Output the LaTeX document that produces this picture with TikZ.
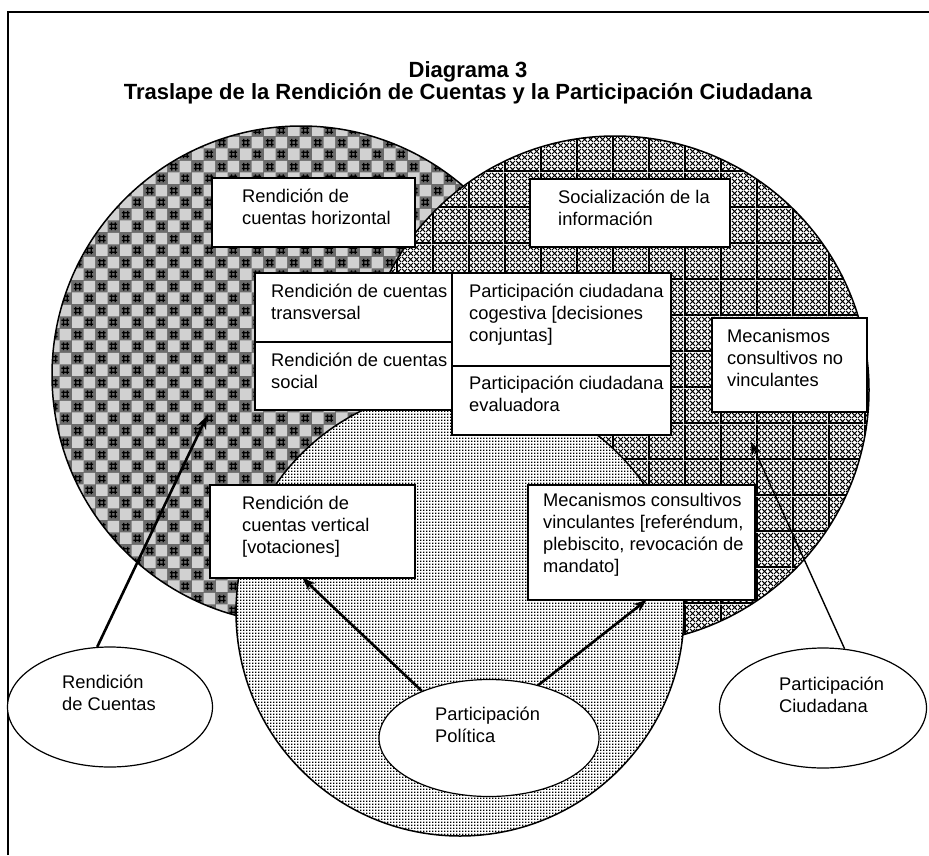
\documentclass[tikz,border=0pt]{standalone}
\usepackage{fontspec}
\setmainfont{Liberation Sans}
\usepackage{xcolor}
\usepackage{tikz}
\usetikzlibrary{shapes.geometric}
\usetikzlibrary{patterns}
\usetikzlibrary{positioning}
\usetikzlibrary{arrows.meta}

%% checks of the Rendicion de Cuentas circle
\pgfdeclarepatternformonly{rcchecks}{\pgfqpoint{0pt}{0pt}}{\pgfqpoint{24pt}{24pt}}{\pgfqpoint{24pt}{24pt}}{%
  \pgfpathrectangle{\pgfqpoint{0pt}{0pt}}{\pgfqpoint{12pt}{12pt}}%
  \pgfpathrectangle{\pgfqpoint{12pt}{12pt}}{\pgfqpoint{12pt}{12pt}}%
  \pgfusepath{fill}}
\pgfdeclarepatternformonly{rchash}{\pgfqpoint{0pt}{0pt}}{\pgfqpoint{24pt}{24pt}}{\pgfqpoint{24pt}{24pt}}{%
  \pgfsetlinewidth{1.3pt}%
  \pgfpathmoveto{\pgfqpoint{16pt}{2pt}}\pgfpathlineto{\pgfqpoint{16pt}{10pt}}%
  \pgfpathmoveto{\pgfqpoint{20pt}{2pt}}\pgfpathlineto{\pgfqpoint{20pt}{10pt}}%
  \pgfpathmoveto{\pgfqpoint{14pt}{4pt}}\pgfpathlineto{\pgfqpoint{22pt}{4pt}}%
  \pgfpathmoveto{\pgfqpoint{14pt}{8pt}}\pgfpathlineto{\pgfqpoint{22pt}{8pt}}%
  \pgfpathmoveto{\pgfqpoint{4pt}{14pt}}\pgfpathlineto{\pgfqpoint{4pt}{22pt}}%
  \pgfpathmoveto{\pgfqpoint{8pt}{14pt}}\pgfpathlineto{\pgfqpoint{8pt}{22pt}}%
  \pgfpathmoveto{\pgfqpoint{2pt}{16pt}}\pgfpathlineto{\pgfqpoint{10pt}{16pt}}%
  \pgfpathmoveto{\pgfqpoint{2pt}{20pt}}\pgfpathlineto{\pgfqpoint{10pt}{20pt}}%
  \pgfusepath{stroke}}
%% diamonds of the Participacion Ciudadana circle
\pgfdeclarepatternformonly{pcdiamonds}{\pgfqpoint{0pt}{0pt}}{\pgfqpoint{6pt}{6pt}}{\pgfqpoint{6pt}{6pt}}{%
  \pgfsetlinewidth{1.1pt}%
  \pgfpathmoveto{\pgfqpoint{0pt}{0pt}}\pgfpathlineto{\pgfqpoint{6pt}{6pt}}%
  \pgfpathmoveto{\pgfqpoint{0pt}{6pt}}\pgfpathlineto{\pgfqpoint{6pt}{0pt}}%
  \pgfusepath{stroke}}
\pgfdeclarepatternformonly{pcgrid}{\pgfqpoint{0pt}{0pt}}{\pgfqpoint{36pt}{36pt}}{\pgfqpoint{36pt}{36pt}}{%
  \pgfpathrectangle{\pgfqpoint{0pt}{0pt}}{\pgfqpoint{36pt}{2pt}}%
  \pgfpathrectangle{\pgfqpoint{0pt}{0pt}}{\pgfqpoint{2pt}{36pt}}%
  \pgfusepath{fill}}
%% dots of the Participacion Politica circle
\pgfdeclarepatternformonly{ppdots}{\pgfqpoint{0pt}{0pt}}{\pgfqpoint{3pt}{3pt}}{\pgfqpoint{3pt}{3pt}}{%
  \pgfpathrectangle{\pgfqpoint{0pt}{0pt}}{\pgfqpoint{1.7pt}{1.7pt}}%
  \pgfusepath{fill}}

\begin{document}
\begin{tikzpicture}[x=1pt,y=-1pt,
    box/.style={draw,line width=1.2pt,fill=white,rectangle,outer sep=0pt,inner sep=0pt},
    boxtext/.style={font=\fontsize{18.3}{22}\selectfont,align=left,inner sep=0pt,anchor=north west},
    bubble/.style={draw,line width=1.2pt,fill=white,ellipse,inner sep=0pt},
    pointer/.style={-{Stealth[length=13pt,width=10pt]},line width=2.6pt}]
            %%% FRAME %%%
            \fill[white] (0,0) rectangle (929,855);
            \useasboundingbox (0,0) rectangle (929,855);
            \draw[line width=1.5pt] (8,855)--(8,12)--(929,12);

            %%% COORDINATES %%%
            \draw (301,375) coordinate (rcc);
            \draw (615,390) coordinate (pcc);
            \draw (460,612) coordinate (ppc);
            \draw (207,416) coordinate (rctip);
            \draw (751,442) coordinate (pctip);

            %%% TITLE %%%
            \node[font=\bfseries\fontsize{22}{21.5}\selectfont,align=center] (title) at (468,83) {Diagrama 3\\Traslape de la Rendición de Cuentas y la Participación Ciudadana};

            %%% CIRCLES %%%
            \fill[black!58] (rcc) circle[radius=249];
            \fill[pattern=rcchecks,pattern color=white!82!black] (rcc) circle[radius=249];
            \fill[pattern=rchash,pattern color=black] (rcc) circle[radius=249];
            \draw[line width=1.5pt] (rcc) circle[radius=249];

            \fill[white] (pcc) circle[radius=254];
            \fill[pattern=pcdiamonds,pattern color=black] (pcc) circle[radius=254];
            \fill[pattern=pcgrid,pattern color=black] (pcc) circle[radius=254];
            \draw[line width=1.5pt] (pcc) circle[radius=254];

            \fill[white] (ppc) circle[radius=224];
            \fill[pattern=ppdots,pattern color=black] (ppc) circle[radius=224];
            \draw[line width=1.5pt] (ppc) circle[radius=224];

            %%% BOXES %%%
            \node[box,minimum width=203pt,minimum height=69pt] (rchor) at (313.5,212.5) {};
            \node[box,minimum width=200pt,minimum height=68pt] (socinf) at (630,213) {};
            \node[box,minimum width=197pt,minimum height=69pt] (rctrans) at (353.5,307.5) {};
            \node[box,minimum width=197pt,minimum height=68pt,below=0pt of rctrans] (rcsoc) {};
            \node[box,minimum width=219pt,minimum height=93pt,anchor=north west] (pccog) at (rctrans.north east) {};
            \node[box,minimum width=219pt,minimum height=69pt,below=0pt of pccog] (pceval) {};
            \node[box,minimum width=155pt,minimum height=94pt] (mcnv) at (789.5,365) {};
            \node[box,minimum width=205pt,minimum height=93pt] (rcvert) at (312.5,531.5) {};
            \node[box,minimum width=227pt,minimum height=115pt] (mcv) at (641.5,542.5) {};

            \node[boxtext,below right=11pt and 30pt of rchor.north west] (rchortxt) {Rendición de\\cuentas horizontal};
            \node[boxtext,below right=11pt and 28pt of socinf.north west] (socinftxt) {Socialización de la\\información};
            \node[boxtext,below right=11pt and 16pt of rctrans.north west] (rctranstxt) {Rendición de cuentas\\transversal};
            \node[boxtext,below right=11pt and 16pt of rcsoc.north west] (rcsoctxt) {Rendición de cuentas\\social};
            \node[boxtext,below right=11pt and 17pt of pccog.north west] (pccogtxt) {Participación ciudadana\\cogestiva [decisiones\\conjuntas]};
            \node[boxtext,below right=10pt and 17pt of pceval.north west] (pcevaltxt) {Participación ciudadana\\evaluadora};
            \node[boxtext,below right=11pt and 15pt of mcnv.north west] (mcnvtxt) {Mecanismos\\consultivos no\\vinculantes};
            \node[boxtext,below right=11pt and 32pt of rcvert.north west] (rcverttxt) {Rendición de\\cuentas vertical\\{}[votaciones]};
            \node[boxtext,below right=8pt and 15pt of mcv.north west] (mcvtxt) {Mecanismos consultivos\\vinculantes [referéndum,\\plebiscito, revocación de\\mandato]};

            %%% ELLIPSES %%%
            \node[bubble,minimum width=205pt,minimum height=120pt] (rc) at (110,707) {};
            \node[bubble,minimum width=207pt,minimum height=120pt] (pc) at (823,708) {};
            \node[bubble,minimum width=220pt,minimum height=117pt] (pp) at (489,738) {};
            \node[boxtext] (rctxt) at (62,674.5) {Rendición\\de Cuentas};
            \node[boxtext] (pctxt) at (779,676.5) {Participación\\Ciudadana};
            \node[boxtext] (pptxt) at (435,706.5) {Participación\\Política};

            %%% ARROWS %%%
            \draw[pointer] (rc.102)--(rctip);
            \draw[pointer,line width=1.4pt] (pc.70)--(pctip);
            \draw[pointer] (pp.145)--([xshift=-10pt]rcvert.south);
            \draw[pointer] (pp.47)--([xshift=5pt]mcv.south);
        \end{tikzpicture}
\end{document}
